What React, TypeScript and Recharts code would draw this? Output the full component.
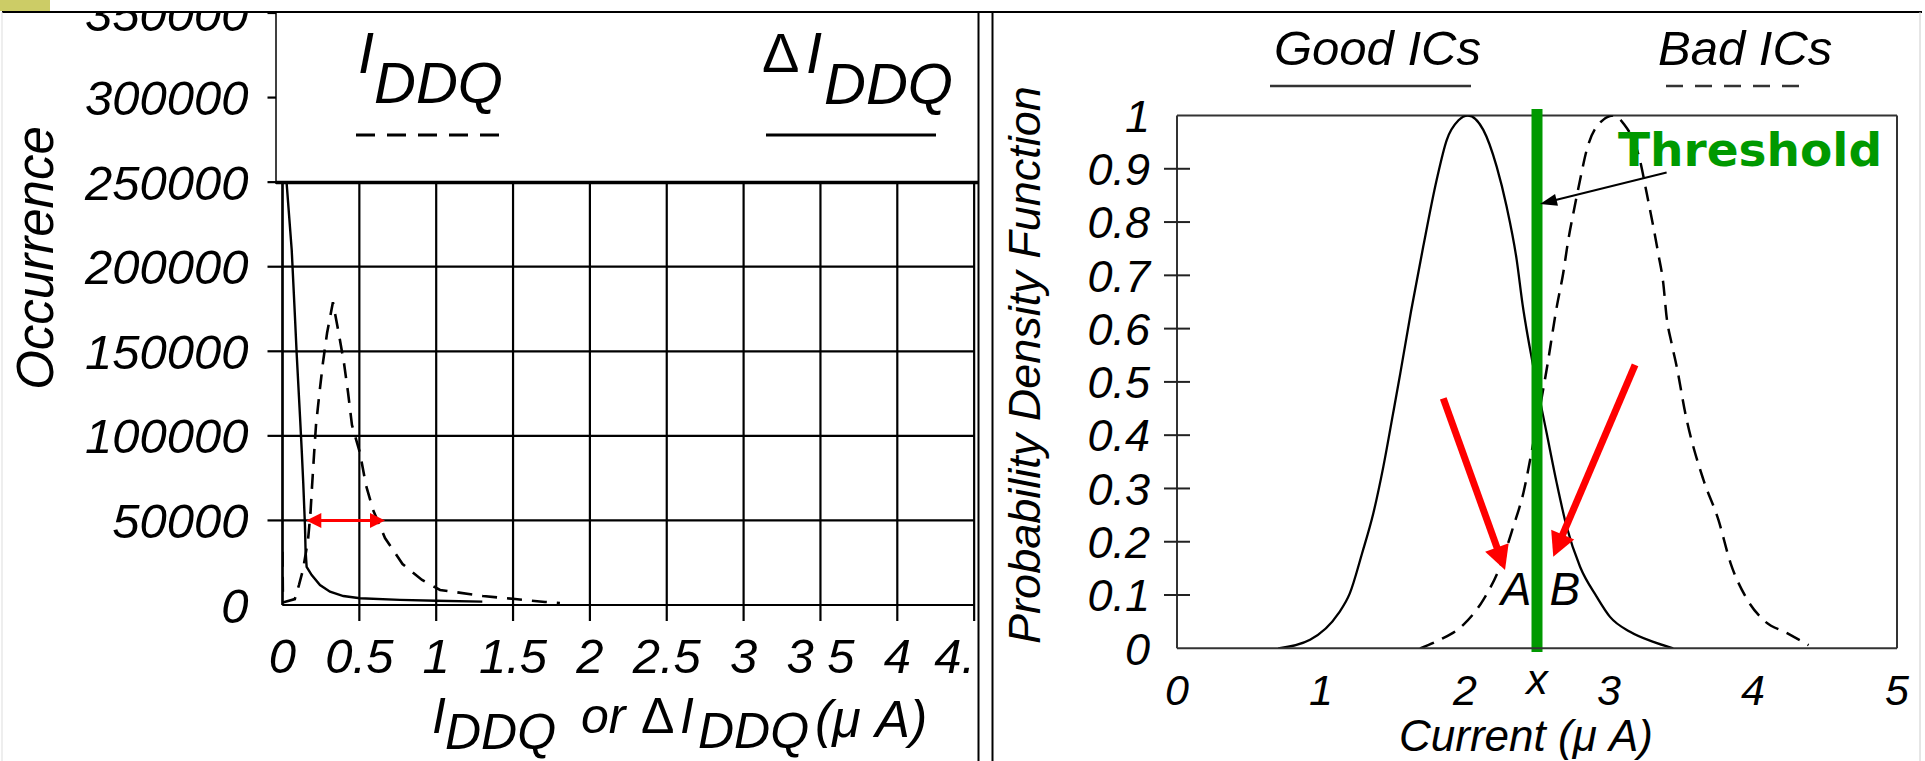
import React from 'react';
import { LineChart, Line, XAxis, YAxis, CartesianGrid, ReferenceLine, ReferenceDot } from 'recharts';

const FONT = "'Liberation Sans', Arial, Helvetica, sans-serif";
const BOLD_FONT = "'DejaVu Sans', Verdana, sans-serif";

// ---------- Left chart: IDDQ / ΔIDDQ occurrence ----------
const iddqCurrent = [0, 0.003, 0.08, 0.107, 0.133, 0.166, 0.182, 0.192, 0.205, 0.218, 0.241, 0.263, 0.29, 0.328, 0.368, 0.40, 0.426, 0.452, 0.504, 0.543, 0.589, 0.667, 0.781, 0.908, 1.025, 1.304, 1.513, 1.708, 1.805];
const iddqOccurrence = [31500, 1500, 3500, 11800, 20700, 38400, 54400, 69800, 88700, 106400, 125900, 143100, 160800, 179000, 159600, 143100, 125900, 106400, 89900, 70900, 56200, 39600, 24200, 14800, 8900, 5300, 3500, 1800, 1200];

const deltaIddqCurrent = [0.012, 0.027, 0.06, 0.081, 0.092, 0.114, 0.125, 0.135, 0.146, 0.15, 0.157, 0.19, 0.244, 0.309, 0.396, 0.504, 0.764, 1.0, 1.3];
const deltaIddqOccurrence = [345000, 249300, 209900, 170400, 149000, 111300, 91600, 72100, 47300, 32500, 22500, 17700, 11800, 7900, 5300, 4000, 3000, 2500, 2000];

const leftXTicks = [0, 0.5, 1, 1.5, 2, 2.5, 3, 3.5, 4, 4.5];
const leftXTickLabels = ['0', '0.5', '1', '1.5', '2', '2.5', '3', '3 5', '4', '4.'];
const leftYTicks = [0, 50000, 100000, 150000, 200000, 250000, 300000, 350000];
const leftYTickLabels = ['0', '50000', '100000', '150000', '200000', '250000', '300000', '350000'];

const widthArrowFrom = 0.155;
const widthArrowTo = 0.667;
const widthArrowLevel = 50000;

// ---------- Right chart: PDF of good / bad ICs ----------
const goodCurrent = [0.703, 0.924, 1.12, 1.2, 1.285, 1.363, 1.433, 1.5, 1.55, 1.625, 1.71, 1.803, 1.873, 1.955, 2.02, 2.127, 2.22, 2.289, 2.359, 2.4, 2.47, 2.567, 2.637, 2.706, 2.799, 2.914, 3.007, 3.146, 3.308, 3.446];
const goodPdf = [0, 0.016, 0.065, 0.103, 0.178, 0.253, 0.341, 0.44, 0.515, 0.632, 0.754, 0.879, 0.954, 0.991, 1.0, 0.973, 0.904, 0.829, 0.729, 0.645, 0.535, 0.404, 0.31, 0.228, 0.153, 0.097, 0.059, 0.031, 0.012, 0];

const badCurrent = [1.688, 1.826, 1.988, 2.127, 2.243, 2.335, 2.405, 2.474, 2.565, 2.64, 2.682, 2.717, 2.752, 2.799, 2.845, 2.914, 3.03, 3.1, 3.215, 3.262, 3.308, 3.342, 3.377, 3.4, 3.435, 3.47, 3.53, 3.656, 3.76, 3.844, 3.948, 4.073, 4.24, 4.386];
const badPdf = [0, 0.016, 0.044, 0.091, 0.153, 0.228, 0.291, 0.385, 0.52, 0.645, 0.704, 0.766, 0.816, 0.879, 0.935, 0.979, 1.0, 0.985, 0.916, 0.854, 0.791, 0.741, 0.685, 0.622, 0.572, 0.529, 0.441, 0.316, 0.241, 0.16, 0.097, 0.053, 0.028, 0.006];

const rightXTicks = [0, 1, 2, 2.5, 3, 4, 5];
const rightXTickLabels = ['0', '1', '2', 'x', '3', '4', '5'];
const rightYTicks = [0, 0.1, 0.2, 0.3, 0.4, 0.5, 0.6, 0.7, 0.8, 0.9, 1];
const rightYTickLabels = ['0', '0.1', '0.2', '0.3', '0.4', '0.5', '0.6', '0.7', '0.8', '0.9', '1'];

const thresholdCurrent = 2.5;
const thresholdLabel = { x: 3.0625, y: 0.905 };
const thresholdPointer = { from: { x: 3.4, y: 0.893 }, to: { x: 2.521, y: 0.834 } };
const arrowA = { from: { x: 1.849, y: 0.469 }, to: { x: 2.278, y: 0.147 } };
const arrowB = { from: { x: 3.181, y: 0.532 }, to: { x: 2.613, y: 0.172 } };
const labelA = { x: 2.354, y: 0.081 };
const labelB = { x: 2.694, y: 0.081 };

const iddqData = iddqCurrent.map((x, i) => ({ x, y: iddqOccurrence[i] }));
const deltaData = deltaIddqCurrent.map((x, i) => ({ x, y: deltaIddqOccurrence[i] }));
const goodData = goodCurrent.map((x, i) => ({ x, y: goodPdf[i] }));
const badData = badCurrent.map((x, i) => ({ x, y: badPdf[i] }));

function makeArrow(color: string, width: number, headLen: number, headW: number, double = false) {
  return (p: any) => {
    const { x1, y1, x2, y2 } = p;
    if ([x1, y1, x2, y2].some((v) => typeof v !== 'number' || isNaN(v))) return <g />;
    const dx = x2 - x1;
    const dy = y2 - y1;
    const L = Math.hypot(dx, dy) || 1;
    const ux = dx / L;
    const uy = dy / L;
    const nx = -uy;
    const ny = ux;
    const head = (tx: number, ty: number, dirx: number, diry: number) => {
      const bx = tx - dirx * headLen;
      const by = ty - diry * headLen;
      return `${tx},${ty} ${bx + (nx * headW) / 2},${by + (ny * headW) / 2} ${bx - (nx * headW) / 2},${by - (ny * headW) / 2}`;
    };
    const sx = double ? x1 + ux * headLen * 0.7 : x1;
    const sy = double ? y1 + uy * headLen * 0.7 : y1;
    const ex = x2 - ux * headLen * 0.7;
    const ey = y2 - uy * headLen * 0.7;
    return (
      <g>
        <line x1={sx} y1={sy} x2={ex} y2={ey} stroke={color} strokeWidth={width} />
        <polygon points={head(x2, y2, ux, uy)} fill={color} />
        {double && <polygon points={head(x1, y1, -ux, -uy)} fill={color} />}
      </g>
    );
  };
}

const redDouble = makeArrow('#ff0000', 3, 15, 15, true);
const redArrow = makeArrow('#ff0000', 7, 24, 25);
const blackArrow = makeArrow('#000000', 2, 17, 12);

const renderLeftXTick = (p: any) => {
  const v = p.payload.value;
  const i = leftXTicks.indexOf(v);
  const isLast = i === leftXTicks.length - 1;
  return (
    <g>
      {v !== 0 && <line x1={p.x} x2={p.x} y1={p.y - 33} y2={p.y - 17} stroke="#000" strokeWidth={2.2} />}
      <text x={isLast ? p.x + 1 : p.x} y={p.y} dy="0.72em" textAnchor={isLast ? 'end' : 'middle'} fontSize={49} fontStyle="italic" fontFamily={FONT} fill="#000">
        {leftXTickLabels[i]}
      </text>
    </g>
  );
};

const renderLeftYTick = (p: any) => {
  const v = p.payload.value;
  const i = leftYTicks.indexOf(v);
  return (
    <g>
      {v !== 0 && <line x1={p.x + 19} x2={p.x + 34} y1={p.y} y2={p.y} stroke="#000" strokeWidth={2.2} />}
      <text x={p.x} y={p.y} dy="0.36em" textAnchor="end" fontSize={49} fontStyle="italic" fontFamily={FONT} fill="#000">
        {leftYTickLabels[i]}
      </text>
    </g>
  );
};

const renderRightXTick = (p: any) => {
  const v = p.payload.value;
  const i = rightXTicks.indexOf(v);
  const label = rightXTickLabels[i];
  const isX = label === 'x';
  return (
    <text x={p.x} y={isX ? p.y + 20 : p.y} dy={isX ? 0 : '0.72em'} textAnchor="middle" fontSize={43} fontStyle="italic" fontFamily={FONT} fill="#000">
      {label}
    </text>
  );
};

const renderRightYTick = (p: any) => {
  const v = p.payload.value;
  const i = rightYTicks.indexOf(v);
  const showTick = v > 0.001 && v < 0.999;
  return (
    <g>
      {showTick && <line x1={p.x + 14} x2={p.x + 40} y1={p.y} y2={p.y} stroke="#222" strokeWidth={2} />}
      <text x={p.x} y={p.y} dy="0.36em" textAnchor="end" fontSize={45} fontStyle="italic" fontFamily={FONT} fill="#000">
        {rightYTickLabels[i]}
      </text>
    </g>
  );
};

const textAt = (content: string, opts: any) => (p: any) =>
  typeof p.cx === 'number' ? (
    <text x={p.cx} y={p.cy} {...opts}>
      {content}
    </text>
  ) : (
    <g />
  );

export default function App() {
  const it = { fontStyle: 'italic', fontFamily: FONT, fill: '#000' } as any;
  return (
    <div style={{ position: 'absolute', left: 0, top: 0, width: 1925, height: 761, background: '#fff', overflow: 'hidden' }}>
      {/* Left chart */}
      <div style={{ position: 'absolute', left: 0, top: 0, width: 979, height: 761, overflow: 'hidden' }}>
        <LineChart width={979} height={761} margin={{ top: 13, right: 4.85, bottom: 0, left: 0 }}>
          <CartesianGrid stroke="#000" strokeWidth={2.2} />
          <XAxis
            type="number"
            dataKey="x"
            domain={[0, 4.5]}
            ticks={leftXTicks}
            interval={0}
            allowDataOverflow
            height={156}
            tickLine={false}
            tickSize={0}
            tickMargin={33}
            axisLine={{ stroke: '#000', strokeWidth: 2.2 }}
            tick={renderLeftXTick}
          />
          <YAxis
            type="number"
            domain={[0, 350000]}
            ticks={leftYTicks}
            interval={0}
            allowDataOverflow
            width={282.5}
            tickLine={false}
            tickSize={0}
            tickMargin={34}
            axisLine={{ stroke: '#000', strokeWidth: 2.2 }}
            tick={renderLeftYTick}
          />
          <Line data={iddqData} dataKey="y" type="linear" stroke="#000" strokeWidth={2.6} strokeDasharray="15 10" dot={false} activeDot={false} isAnimationActive={false} />
          <Line data={deltaData} dataKey="y" type="linear" stroke="#000" strokeWidth={2.4} dot={false} activeDot={false} isAnimationActive={false} />
          <ReferenceLine
            segment={[
              { x: widthArrowFrom, y: widthArrowLevel },
              { x: widthArrowTo, y: widthArrowLevel },
            ]}
            ifOverflow="visible"
            shape={redDouble}
          />
        </LineChart>
      </div>

      {/* Right chart */}
      <div style={{ position: 'absolute', left: 993, top: 0, width: 932, height: 761 }}>
        <LineChart width={932} height={761} margin={{ top: 115.5, right: 28, bottom: 0, left: 0 }}>
          <XAxis
            type="number"
            dataKey="x"
            domain={[0, 5]}
            ticks={rightXTicks}
            interval={0}
            allowDataOverflow
            height={112.7}
            tickLine={false}
            tickSize={0}
            tickMargin={26}
            axisLine={{ stroke: '#333', strokeWidth: 2 }}
            tick={renderRightXTick}
          />
          <YAxis
            type="number"
            domain={[0, 1]}
            ticks={rightYTicks}
            interval={0}
            allowDataOverflow
            width={184}
            tickLine={false}
            tickSize={0}
            tickMargin={27}
            axisLine={{ stroke: '#333', strokeWidth: 2 }}
            tick={renderRightYTick}
          />
          <ReferenceLine y={1} stroke="#333" strokeWidth={2} ifOverflow="visible" />
          <ReferenceLine x={5} stroke="#333" strokeWidth={2} ifOverflow="visible" />
          <Line data={goodData} dataKey="y" type="monotone" stroke="#000" strokeWidth={2.3} dot={false} activeDot={false} isAnimationActive={false} />
          <Line data={badData} dataKey="y" type="monotone" stroke="#000" strokeWidth={2.5} strokeDasharray="15 9" dot={false} activeDot={false} isAnimationActive={false} />
          <ReferenceLine
            segment={[
              { x: thresholdCurrent, y: 1.012 },
              { x: thresholdCurrent, y: -0.007 },
            ]}
            ifOverflow="visible"
            stroke="#009900"
            strokeWidth={11}
          />
          <ReferenceLine segment={[arrowA.from, arrowA.to]} ifOverflow="visible" shape={redArrow} />
          <ReferenceLine segment={[arrowB.from, arrowB.to]} ifOverflow="visible" shape={redArrow} />
          <ReferenceLine segment={[thresholdPointer.from, thresholdPointer.to]} ifOverflow="visible" shape={blackArrow} />
          <ReferenceDot
            x={thresholdLabel.x}
            y={thresholdLabel.y}
            r={0}
            ifOverflow="visible"
            shape={textAt('Threshold', { fontSize: 47, fontWeight: 'bold', fontFamily: BOLD_FONT, fill: '#009900', textAnchor: 'start' })}
          />
          <ReferenceDot x={labelA.x} y={labelA.y} r={0} ifOverflow="visible" shape={textAt('A', { ...it, fontSize: 46, textAnchor: 'middle' })} />
          <ReferenceDot x={labelB.x} y={labelB.y} r={0} ifOverflow="visible" shape={textAt('B', { ...it, fontSize: 46, textAnchor: 'middle' })} />
        </LineChart>
      </div>

      {/* Frames, legends and axis titles */}
      <svg width={1925} height={761} style={{ position: 'absolute', left: 0, top: 0, pointerEvents: 'none' }}>
        <rect x={0} y={0} width={1925} height={12} fill="#fff" />
        <rect x={0} y={0} width={50} height={11} fill="#cccc66" />
        <line x1={2} y1={12} x2={1922} y2={12} stroke="#000" strokeWidth={2} />
        <line x1={2} y1={12} x2={2} y2={761} stroke="#dddddd" strokeWidth={1} />
        <line x1={1920} y1={12} x2={1920} y2={761} stroke="#cccccc" strokeWidth={1} />

        {/* left legend box */}
        <rect x={276} y={13} width={702} height={168} fill="#fff" />
        <line x1={276} y1={12} x2={276} y2={184} stroke="#000" strokeWidth={1.5} />
        <line x1={276} y1={182.5} x2={978} y2={182.5} stroke="#000" strokeWidth={3.5} />
        <text x={358} y={73} fontSize={58} {...it}>I</text>
        <text x={374} y={103} fontSize={58} {...it}>DDQ</text>
        <line x1={356} y1={135} x2={500} y2={135} stroke="#000" strokeWidth={3} strokeDasharray="19 12" />
        <text x={762} y={72} fontSize={56} fontFamily={FONT} fill="#000">Δ</text>
        <text x={806} y={73} fontSize={58} {...it}>I</text>
        <text x={824} y={104} fontSize={58} {...it}>DDQ</text>
        <line x1={766} y1={135} x2={936} y2={135} stroke="#000" strokeWidth={3} />

        {/* left axis titles */}
        <text x={53} y={258} fontSize={51} {...it} textAnchor="middle" transform="rotate(-90 53 258)">Occurrence</text>
        <text x={432} y={733} fontSize={50} {...it}>I</text>
        <text x={445} y={749} fontSize={50} {...it}>DDQ</text>
        <text x={581} y={733} fontSize={50} {...it}>or</text>
        <text x={641} y={733} fontSize={50} fontFamily={FONT} fill="#000">Δ</text>
        <text x={680} y={733} fontSize={50} {...it}>I</text>
        <text x={698} y={748} fontSize={50} {...it}>DDQ</text>
        <text x={815} y={737} fontSize={52} {...it}>(μ A)</text>

        {/* panel dividers */}
        <line x1={978.5} y1={12} x2={978.5} y2={761} stroke="#000" strokeWidth={2} />
        <line x1={992.5} y1={12} x2={992.5} y2={761} stroke="#000" strokeWidth={2} />

        {/* right legend */}
        <text x={1274} y={65} fontSize={49} {...it}>Good ICs</text>
        <line x1={1270} y1={86} x2={1471} y2={86} stroke="#333" strokeWidth={2.5} />
        <text x={1658} y={65} fontSize={49} {...it}>Bad ICs</text>
        <line x1={1666} y1={86} x2={1800} y2={86} stroke="#333" strokeWidth={2.5} strokeDasharray="17 12" />

        {/* right axis titles */}
        <text x={1040} y={365} fontSize={45} {...it} textAnchor="middle" transform="rotate(-90 1040 365)">Probability Density Function</text>
        <text x={1526} y={751} fontSize={44} {...it} textAnchor="middle">Current (μ A)</text>
      </svg>
    </div>
  );
}
